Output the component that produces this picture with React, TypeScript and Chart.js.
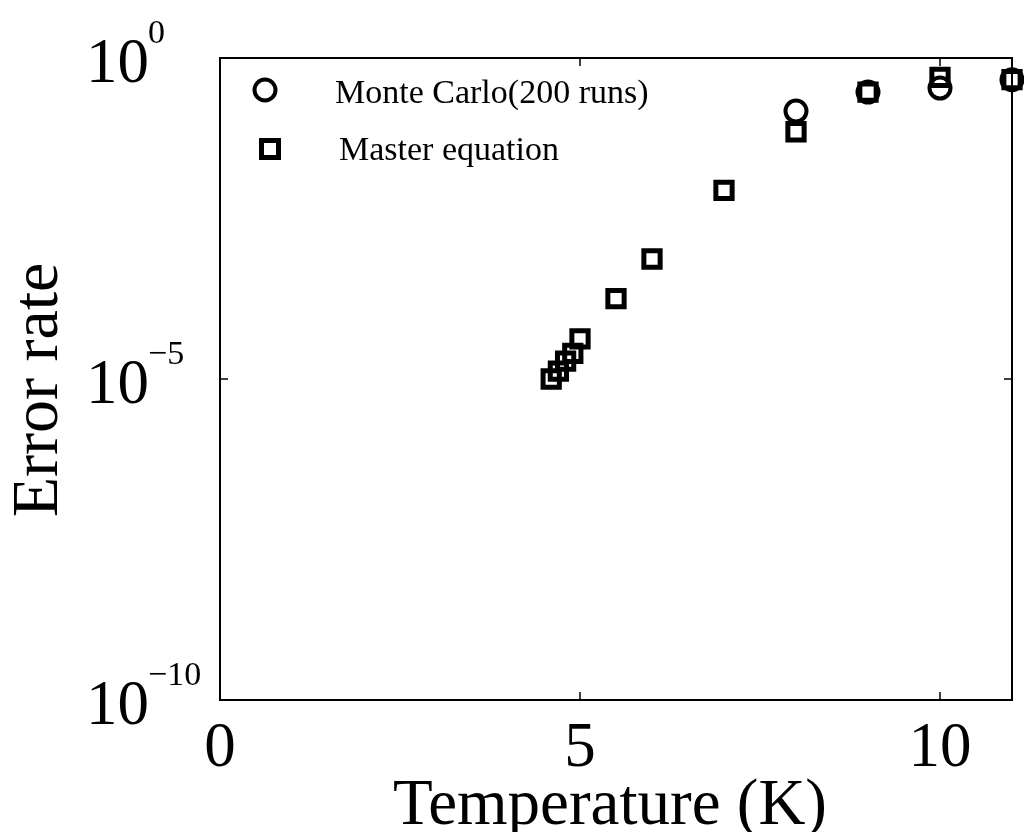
import React, { useEffect, useRef } from 'react';
import { Chart, registerables } from 'chart.js';

Chart.register(...registerables);

// ---- data ----
const mcTemps = [8, 9, 10, 11];
const mcErrors = [0.149, 0.295, 0.34, 0.46];
const meTemps = [4.6, 4.7, 4.8, 4.9, 5.0, 5.5, 6, 7, 8, 9, 10, 11];
const meErrors = [1.0e-5, 1.33e-5, 1.9e-5, 2.5e-5, 4.2e-5, 1.78e-4, 7.4e-4, 8.7e-3, 0.071, 0.295, 0.5, 0.46];
const xTicks = [0, 5, 10];
const yTickExps = [0, -5, -10];
const seriesLabels = ['Monte Carlo(200 runs)', 'Master equation'];
const xTitle = 'Temperature (K)';
const yTitle = 'Error rate';

const FONT = '"Liberation Serif", "Times New Roman", serif';

const framePlugin = {
  id: 'framePlugin',
  afterDraw(chart: any) {
    const { ctx, chartArea: a, scales } = chart;
    const xs = scales.x;
    const ys = scales.y;
    ctx.save();
    ctx.strokeStyle = '#000';
    ctx.lineWidth = 2;
    ctx.strokeRect(a.left, a.top, a.right - a.left, a.bottom - a.top);

    ctx.lineWidth = 1.5;
    ctx.beginPath();
    xTicks.forEach((v) => {
      const px = xs.getPixelForValue(v);
      ctx.moveTo(px, a.bottom);
      ctx.lineTo(px, a.bottom - 8);
      ctx.moveTo(px, a.top);
      ctx.lineTo(px, a.top + 8);
    });
    yTickExps.forEach((e) => {
      const py = ys.getPixelForValue(Math.pow(10, e));
      ctx.moveTo(a.left, py);
      ctx.lineTo(a.left + 8, py);
      ctx.moveTo(a.right, py);
      ctx.lineTo(a.right - 8, py);
    });
    ctx.stroke();

    ctx.fillStyle = '#000';
    ctx.textBaseline = 'alphabetic';
    // x tick labels
    ctx.font = `63px ${FONT}`;
    ctx.textAlign = 'center';
    xTicks.forEach((v) => {
      ctx.fillText(String(v), xs.getPixelForValue(v), a.bottom + 66);
    });
    // y tick labels with superscript exponents
    yTickExps.forEach((e) => {
      const py = ys.getPixelForValue(Math.pow(10, e));
      ctx.textAlign = 'left';
      ctx.font = `63px ${FONT}`;
      ctx.fillText('10', a.left - 134, py + 24);
      ctx.font = `34px ${FONT}`;
      ctx.fillText(e === 0 ? '0' : '\u2212' + Math.abs(e), a.left - 72, py - 15);
    });

    // axis titles
    ctx.font = `65px ${FONT}`;
    ctx.textAlign = 'center';
    ctx.fillText(xTitle, a.left + 390, a.bottom + 124);
    ctx.font = `66px ${FONT}`;
    ctx.save();
    ctx.translate(57, (a.top + a.bottom) / 2 + 11);
    ctx.rotate(-Math.PI / 2);
    ctx.fillText(yTitle, 0, 0);
    ctx.restore();

    // legend
    const lx = a.left + 45;
    ctx.lineWidth = 4;
    ctx.beginPath();
    ctx.arc(lx, a.top + 32, 10.5, 0, Math.PI * 2);
    ctx.stroke();
    ctx.lineWidth = 5;
    ctx.strokeRect(lx + 5 - 8.5, a.top + 91 - 8.5, 17, 17);
    ctx.font = `34px ${FONT}`;
    ctx.textAlign = 'left';
    ctx.fillText(seriesLabels[0], a.left + 115, a.top + 45);
    ctx.fillText(seriesLabels[1], a.left + 119, a.top + 102);
    ctx.restore();
  },
};

export default function App() {
  const ref = useRef<HTMLCanvasElement>(null);
  useEffect(() => {
    document.body.style.margin = '0';
    const canvas = ref.current;
    if (!canvas) return;
    const chart = new Chart(canvas, {
      type: 'scatter',
      data: {
        datasets: [
          {
            label: seriesLabels[1],
            data: meTemps.map((t, i) => ({ x: t, y: meErrors[i] })),
            pointStyle: 'rect',
            pointRadius: 11.5,
            pointBorderWidth: 5,
            borderColor: '#000',
            pointBorderColor: '#000',
            backgroundColor: 'rgba(0,0,0,0)',
            pointBackgroundColor: 'rgba(0,0,0,0)',
            showLine: false,
            clip: false as any,
          },
          {
            label: seriesLabels[0],
            data: mcTemps.map((t, i) => ({ x: t, y: mcErrors[i] })),
            pointStyle: 'circle',
            pointRadius: 10.5,
            pointBorderWidth: 4,
            borderColor: '#000',
            pointBorderColor: '#000',
            backgroundColor: 'rgba(0,0,0,0)',
            pointBackgroundColor: 'rgba(0,0,0,0)',
            showLine: false,
            clip: false as any,
          },
        ],
      },
      options: {
        animation: false,
        responsive: false,
        devicePixelRatio: 1,
        layout: { autoPadding: false, padding: { left: 220, right: 12, top: 58, bottom: 132 } },
        plugins: { legend: { display: false }, tooltip: { enabled: false } },
        scales: {
          x: { type: 'linear', min: 0, max: 11, display: false },
          y: { type: 'logarithmic', min: 1e-10, max: 1, display: false },
        },
      },
      plugins: [framePlugin],
    });
    return () => chart.destroy();
  }, []);
  return (
    <div style={{ position: 'absolute', left: 0, top: 0, width: 1024, height: 832, background: '#fff' }}>
      <canvas ref={ref} width={1024} height={832} />
    </div>
  );
}
